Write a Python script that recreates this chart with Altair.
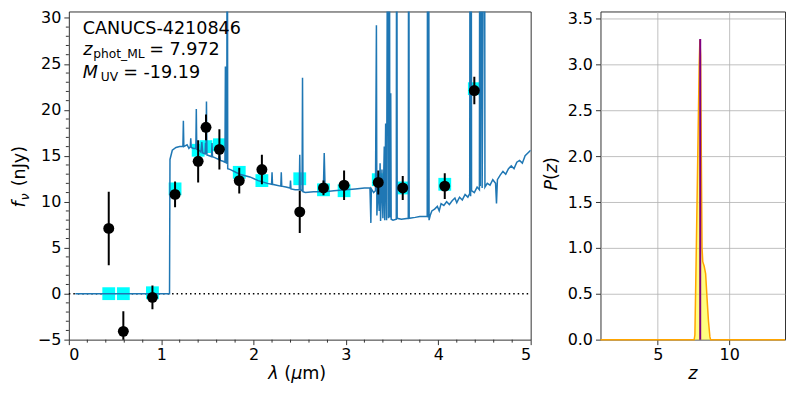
import altair as alt
import pandas as pd

# ---------------- data ----------------
# photometric bands (micron)
filt_wave = [0.432, 0.59, 0.905, 1.15, 1.40, 1.485, 1.63, 1.845, 2.09, 2.50, 2.757, 2.98, 3.35, 3.615, 4.07, 4.39]
obs_flux = [7.1, -4.1, -0.4, 10.8, 14.4, 18.1, 15.7, 12.3, 13.5, 8.9, 11.5, 11.8, 12.1, 11.5, 11.7, 22.1]
obs_err = [4.0, 2.2, 1.3, 1.4, 2.3, 1.4, 2.2, 1.4, 1.6, 2.3, 0.8, 1.6, 1.3, 1.3, 1.4, 1.5]
model_flux = [0.0, 0.0, 0.1, 11.4, 15.6, 16.0, 16.2, 13.2, 12.3, 12.5, 11.3, 11.2, 12.4, 11.5, 11.9, 22.3]

# best-fit SED (micron, nJy); values above the frame are emission lines running off-scale
spec_wave = [0.07, 1.09, 1.095, 1.12, 1.16, 1.20, 1.235, 1.24, 1.245, 1.28, 1.30, 1.315, 1.32, 1.325,
             1.35, 1.375, 1.38, 1.385, 1.41, 1.43, 1.44, 1.45, 1.475, 1.48, 1.485, 1.49, 1.495, 1.52,
             1.545, 1.55, 1.555, 1.58, 1.62, 1.63, 1.64, 1.67, 1.69, 1.695, 1.70, 1.71, 1.715, 1.72,
             1.75, 1.85, 1.96, 2.05, 2.15, 2.195, 2.20, 2.205, 2.25, 2.295, 2.30, 2.305, 2.35, 2.395,
             2.40, 2.405, 2.45, 2.495, 2.50, 2.505, 2.525, 2.53, 2.535, 2.56, 2.65, 2.755, 2.765, 2.775,
             2.87, 3.00, 3.10, 3.20, 3.26, 3.27, 3.275, 3.30, 3.32, 3.33, 3.335, 3.35, 3.36, 3.37,
             3.375, 3.39, 3.40, 3.415, 3.42, 3.43, 3.44, 3.455, 3.46, 3.47, 3.475, 3.485, 3.49, 3.51,
             3.545, 3.55, 3.555, 3.60, 3.675, 3.68, 3.685, 3.75, 3.80, 3.88, 3.885, 3.89, 3.895, 3.90,
             3.915, 3.93, 3.96, 3.99, 4.01, 4.03, 4.06, 4.09, 4.12, 4.15, 4.18, 4.20, 4.23, 4.26,
             4.29, 4.32, 4.34, 4.345, 4.35, 4.355, 4.36, 4.39, 4.42, 4.445, 4.45, 4.455, 4.47, 4.475,
             4.50, 4.505, 4.53, 4.56, 4.59, 4.62, 4.63, 4.64, 4.67, 4.70, 4.73, 4.76, 4.79, 4.82,
             4.85, 4.88, 4.91, 4.94, 4.97, 5.00]
spec_flux = [0.0, 0.0, 14.6, 15.6, 15.9, 16.0, 16.0, 18.8, 16.0, 16.2, 15.8, 16.0, 16.9, 15.9,
             15.8, 15.8, 20.1, 15.7, 15.6, 15.4, 16.5, 15.3, 15.2, 16.4, 15.2, 20.9, 15.1, 15.0,
             14.9, 16.4, 14.9, 14.8, 14.6, 15.3, 14.5, 14.4, 14.3, 24.7, 14.3, 14.2, 60.0, 13.6,
             13.5, 13.0, 12.7, 12.3, 12.0, 11.9, 13.2, 11.9, 11.8, 11.7, 13.2, 11.7, 11.6, 11.5,
             12.3, 11.4, 11.3, 11.3, 15.1, 11.3, 11.2, 23.5, 11.1, 11.0, 11.1, 11.1, 15.3, 11.1,
             11.2, 11.3, 11.4, 11.5, 11.5, 7.7, 11.4, 11.0, 11.2, 29.2, 8.5, 12.0, 9.0, 14.2,
             7.9, 13.5, 8.2, 16.0, 8.0, 18.5, 8.0, 60.0, 8.2, 60.0, 8.3, 21.8, 8.1, 8.0,
             8.1, 60.0, 8.2, 8.1, 8.2, 60.0, 8.2, 8.3, 8.4, 8.4, 60.0, 8.3, 60.0, 8.0,
             8.6, 9.0, 9.2, 9.5, 9.0, 9.8, 9.6, 10.0, 9.7, 10.1, 10.4, 9.9, 10.5, 10.2,
             10.8, 10.5, 10.9, 60.0, 10.6, 60.0, 11.2, 11.0, 11.6, 11.3, 60.0, 11.7, 60.0, 11.5,
             60.0, 11.6, 12.0, 11.8, 12.4, 12.0, 9.8, 12.4, 12.9, 13.3, 13.0, 13.6, 13.9, 13.6,
             14.3, 14.5, 14.2, 15.0, 15.3, 15.6]
zero_line_wave = [0.0, 5.0]
zero_line_flux = [0.0, 0.0]

# photometric redshift PDF
pz_z = [1.0, 7.55, 7.6, 7.7, 7.8, 7.9, 7.95, 8.0, 8.05, 8.1, 8.15, 8.25, 8.35, 8.45, 8.55, 8.65, 8.7, 13.9]
pz_p = [0.0, 0.0, 0.05, 1.0, 2.0, 3.0, 3.27, 3.1, 2.0, 1.0, 0.85, 0.8, 0.72, 0.45, 0.2, 0.03, 0.0, 0.0]
z_ml = [7.972]
z_ml_peak = [3.28]

# axis ticks
x_major_left = [0, 1, 2, 3, 4, 5]
x_minor_left = [0.2, 0.4, 0.6, 0.8, 1.2, 1.4, 1.6, 1.8, 2.2, 2.4, 2.6, 2.8,
                3.2, 3.4, 3.6, 3.8, 4.2, 4.4, 4.6, 4.8]
y_major_left = [-5, 0, 5, 10, 15, 20, 25, 30]
y_minor_left = [-4, -3, -2, -1, 1, 2, 3, 4, 6, 7, 8, 9, 11, 12, 13, 14, 16, 17, 18, 19,
                21, 22, 23, 24, 26, 27, 28, 29]
x_ticks_pz = [5, 10]
y_ticks_pz = [0.0, 0.5, 1.0, 1.5, 2.0, 2.5, 3.0, 3.5]

FONT = "DejaVu Sans"
TXT = 17.6
SUB = 12.3
BLUE = "#1f77b4"
FRAME = "#333333"
H = 329
YT = -43.6   # baseline of the rotated y titles, relative to each plot's left edge

# ---------------- tables ----------------
phot = pd.DataFrame({"w": filt_wave, "f": obs_flux, "e": obs_err, "m": model_flux})
phot["lo"] = phot["f"] - phot["e"]
phot["hi"] = phot["f"] + phot["e"]
spec = pd.DataFrame({"w": spec_wave, "f": spec_flux})
zero = pd.DataFrame({"w": zero_line_wave, "f": zero_line_flux})
pz = pd.DataFrame({"z": pz_z, "p": pz_p})
ml = pd.DataFrame({"z": z_ml, "p": z_ml_peak, "p0": [0.0]})

xs = alt.Scale(domain=[0, 5], nice=False)
ys = alt.Scale(domain=[-5, 30.7], nice=False)

x_axis = alt.Axis(values=x_major_left, format="d", grid=False, labelOverlap=False,
                  tickSize=5, labelPadding=2)
y_axis = alt.Axis(values=y_major_left, format="d", grid=False, labelOverlap=False,
                  tickSize=5, labelPadding=3)


def txt(s, x, y, size=TXT, italic=False, angle=0, align="left"):
    return alt.Chart(pd.DataFrame({"t": [s]})).mark_text(
        align=align, baseline="alphabetic", fontSize=size, font=FONT,
        fontStyle="italic" if italic else "normal", angle=angle, color="black"
    ).encode(x=alt.value(x), y=alt.value(y), text="t:N")


zero_l = alt.Chart(zero).mark_line(color="black", strokeWidth=1.5, strokeDash=[1.5, 3]).encode(
    x=alt.X("w:Q", scale=xs, axis=x_axis, title=None),
    y=alt.Y("f:Q", scale=ys, axis=y_axis, title=None))
xminor = alt.Chart(pd.DataFrame({"v": x_minor_left})).mark_rule(color=FRAME, strokeWidth=1).encode(
    x=alt.X("v:Q", scale=xs), y=alt.value(H), y2=alt.value(H + 3))
yminor = alt.Chart(pd.DataFrame({"v": y_minor_left})).mark_rule(color=FRAME, strokeWidth=1).encode(
    y=alt.Y("v:Q", scale=ys), x=alt.value(-3), x2=alt.value(0))
squares = alt.Chart(phot).mark_square(color="#00ffff", size=165, opacity=1).encode(
    x=alt.X("w:Q", scale=xs), y=alt.Y("m:Q", scale=ys))
spec_l = alt.Chart(spec).mark_line(color=BLUE, strokeWidth=1.5, clip=True).encode(
    x=alt.X("w:Q", scale=xs), y=alt.Y("f:Q", scale=ys))
errs = alt.Chart(phot).mark_rule(color="black", strokeWidth=2, clip=True).encode(
    x=alt.X("w:Q", scale=xs), y=alt.Y("lo:Q", scale=ys), y2="hi:Q")
dots = alt.Chart(phot).mark_circle(color="black", size=120, opacity=1).encode(
    x=alt.X("w:Q", scale=xs), y=alt.Y("f:Q", scale=ys))

left_text = [
    txt("CANUCS-4210846", 14, 22.8),
    txt("z", 14.5, 43.8, italic=True),
    txt("phot_ML", 24.5, 47.0, size=SUB),
    txt("= 7.972", 80.5, 43.8),
    txt("M", 14, 66.2, italic=True),
    txt("UV", 32, 69.4, size=SUB),
    txt("= -19.19", 54.5, 66.2),
    # x title: λ (μm)
    txt("λ", 200, 368, italic=True),
    txt("(", 216, 368),
    txt("μ", 223, 368, italic=True),
    txt("m)", 234, 368),
    # y title: f_ν (nJy)
    txt("f", YT, 196.5, italic=True, angle=270),
    txt("ν", YT + 3.5, 189.3, size=SUB, italic=True, angle=270),
    txt("(nJy)", YT, 175.3, angle=270),
]

left = alt.layer(zero_l, xminor, yminor, squares, spec_l, errs, dots, *left_text).properties(
    width=463, height=H)

# ---------------- P(z) panel ----------------
zs = alt.Scale(domain=[1, 13.9], nice=False)
ps = alt.Scale(domain=[0, 3.58], nice=False)

area = alt.Chart(pz).mark_area(color="yellow", opacity=0.5).encode(
    x=alt.X("z:Q", scale=zs, title=None,
            axis=alt.Axis(values=x_ticks_pz, grid=True, labelPadding=2, tickSize=5, labelOverlap=False)),
    y=alt.Y("p:Q", scale=ps, title=None,
            axis=alt.Axis(values=y_ticks_pz, format=".1f", grid=True, labelPadding=3, tickSize=5,
                          labelOverlap=False)))
pz_line = alt.Chart(pz).mark_line(color="orange", strokeWidth=1.5).encode(
    x=alt.X("z:Q", scale=zs), y=alt.Y("p:Q", scale=ps))
ml_rule = alt.Chart(ml).mark_rule(color="purple", strokeWidth=2).encode(
    x=alt.X("z:Q", scale=zs), y=alt.Y("p0:Q", scale=ps), y2="p:Q")

right_text = [
    txt("z", 92.5, 368.5, italic=True, align="center"),
    txt("P", YT, 179.5, italic=True, angle=270),
    txt("(", YT, 168.9, angle=270),
    txt("z", YT, 162.0, italic=True, angle=270),
    txt(")", YT, 152.8, angle=270),
]

right = alt.layer(area, pz_line, ml_rule, *right_text).properties(width=185, height=H)

chart = alt.hconcat(left, right, spacing=7).properties(
    padding={"left": 2, "top": 0, "right": 0, "bottom": 0}
).configure_view(stroke=FRAME, strokeWidth=1).configure_axis(
    domain=False, tickColor=FRAME, tickWidth=1, labelColor="black",
    labelFont=FONT, labelFontSize=16, gridColor="#b0b0b0", gridWidth=0.8
)

chart.save("out.html", embed_options={"renderer": "svg", "actions": False})
